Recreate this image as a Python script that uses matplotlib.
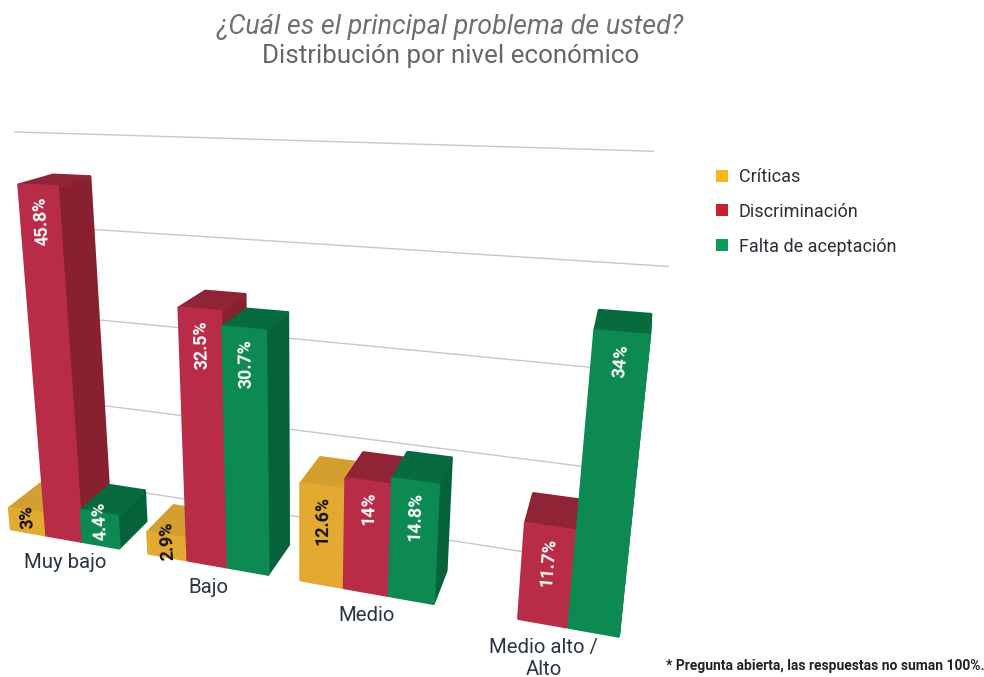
import numpy as np
import matplotlib
matplotlib.use("Agg")
import matplotlib.pyplot as plt
from matplotlib.patches import Polygon, Patch

# ---------- data ----------
categories = ["Muy bajo", "Bajo", "Medio", "Medio alto /\nAlto"]
series_names = ["Críticas", "Discriminación", "Falta de aceptación"]
criticas = [3, 2.9, 12.6, np.nan]
discriminacion = [45.8, 32.5, 14, 11.7]
aceptacion = [4.4, 30.7, 14.8, 34]
value_labels_c = ["3%", "2.9%", "12.6%", ""]
value_labels_d = ["45.8%", "32.5%", "14%", "11.7%"]
value_labels_a = ["4.4%", "30.7%", "14.8%", "34%"]
grid_values = [0, 12.5, 25, 37.5, 50]
title_1 = "¿Cuál es el principal problema de usted?"
title_2 = "Distribución por nivel económico"
footnote = "* Pregunta abierta, las respuestas no suman 100%."

# ---------- three-point perspective scale ----------
ORIGIN = np.array([47.0, 535.0])
VX, VY, VZ = np.array([-2700.0, 50.0]), np.array([667.0, 0.0]), np.array([300.0, 3700.0])
A, B, C = -0.0131, 0.05, -0.002174


def proj(X, Y, Z):
    """world (group axis in bar widths, depth in bar widths, value in %) -> canvas"""
    w = 1 + A * X + B * Y + C * Z
    return (ORIGIN + A * X * VX + B * Y * VY + C * Z * VZ) / w


GROUP_STEP = 3.73
BAR_WIDTH = 0.95
BAR_DEPTH = 1.0
WALL_DEPTH = 2.0

fig = plt.figure(figsize=(9.84, 6.77), dpi=100, facecolor="white")
ax = fig.add_axes([0, 0, 1, 1])
ax.set_xlim(0, 984)
ax.set_ylim(677, 0)
ax.axis("off")

FONT = "Roboto"

# ---------- back-wall gridlines ----------
grid_from = [0, 0, 0, 0, -1.86]
grid_to = [12.3, 12.3, 12.3, 13.4, 12.9]
for v, x0, x1 in zip(grid_values, grid_from, grid_to):
    p, q = proj(x0, WALL_DEPTH, v), proj(x1, WALL_DEPTH, v)
    ax.plot([p[0], q[0]], [p[1], q[1]], color="#c8c8c8", lw=1.0, zorder=1)

# ---------- bars ----------
styles = [
    dict(front="#e3a931", side="#b98a2a", top="#d39f30", text="#111111"),
    dict(front="#b92c47", side="#88202f", top="#8f2436", text="#ffffff"),
    dict(front="#0c8a51", side="#06623a", top="#086b40", text="#ffffff"),
]
series = [criticas, discriminacion, aceptacion]
labels = [value_labels_c, value_labels_d, value_labels_a]


def face(points, colour, z):
    ax.add_patch(Polygon(points, closed=True, facecolor=colour, edgecolor=colour,
                         lw=2.5, joinstyle="round", zorder=z))


z = 3.0
for g in range(len(categories)):
    for s in range(3):
        v = series[s][g]
        if np.isnan(v):
            continue
        x0 = g * GROUP_STEP + (s - 1)
        x1 = x0 + BAR_WIDTH
        st = styles[s]
        face([proj(x1, 0, 0), proj(x1, BAR_DEPTH, 0), proj(x1, BAR_DEPTH, v), proj(x1, 0, v)], st["side"], z)
        face([proj(x0, 0, v), proj(x1, 0, v), proj(x1, BAR_DEPTH, v), proj(x0, BAR_DEPTH, v)], st["top"], z + 0.1)
        face([proj(x0, 0, 0), proj(x1, 0, 0), proj(x1, 0, v), proj(x0, 0, v)], st["front"], z + 0.2)
        # value label follows the lean of the bar; labels stay above all bars
        mid = x0 + 0.5
        low, high = proj(mid, 0, 0), proj(mid, 0, v)
        angle = 90 + np.degrees(np.arctan2(low[0] - high[0], low[1] - high[1]))
        if v < 6:
            pos, ha = proj(mid, 0, v * 0.75), "center"
        else:
            pos, ha = proj(mid, 0, v - 1.2), "right"
        ax.text(pos[0], pos[1], labels[s][g], rotation=angle, rotation_mode="anchor",
                ha=ha, va="center", color=st["text"], fontsize=12.8, fontweight="bold",
                family=FONT, zorder=100)
        z += 1

# ---------- category labels ----------
for g, name in enumerate(categories):
    b = proj(g * GROUP_STEP + 0.5, 0, 0)
    ax.text(b[0], b[1] + 15, name, ha="center", va="top", fontsize=14.7, color="#2a3645",
            family=FONT, linespacing=1.2, zorder=50)

# ---------- titles, legend, note ----------
ax.text(450, 27, title_1, ha="center", va="center", fontsize=19.4, style="italic", color="#707070", family=FONT)
ax.text(451, 56, title_2, ha="center", va="center", fontsize=18.7, color="#666666", family=FONT)
ax.text(985, 666, footnote, ha="right", va="center", fontsize=10, fontweight="bold", color="#222222", family=FONT)

handles = [Patch(facecolor=c, edgecolor="none") for c in ("#f7b91a", "#c8202f", "#0f9a58")]
leg = ax.legend(handles, series_names, loc="upper left", bbox_to_anchor=(716 / 984, 1 - 168 / 677),
                frameon=False, handlelength=0.65, handleheight=0.65, handletextpad=0.6,
                labelspacing=0.93, borderpad=0.0, borderaxespad=0.0,
                prop=dict(family=FONT, size=13))
for t in leg.get_texts():
    t.set_color("#2a2f36")

fig.savefig("out.png", dpi=100, facecolor="white")
